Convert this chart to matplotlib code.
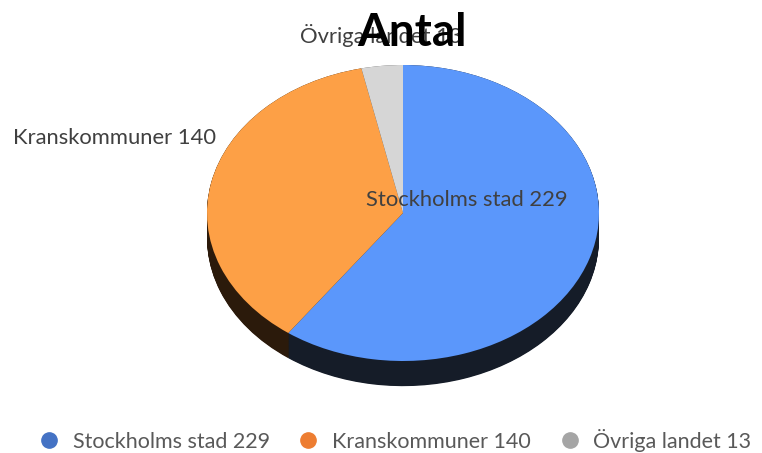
import matplotlib.pyplot as plt
import numpy as np
from matplotlib.lines import Line2D

# Data
categories = ['Stockholms stad', 'Kranskommuner', 'Övriga landet']
values = [229, 140, 13]
top_colors = ['#5b97fb', '#fda046', '#d6d6d6']
side_colors = ['#151c28', '#2b1a0b', '#555555']
legend_colors = ['#4472c4', '#ed7d31', '#a5a5a5']
labels = [f'{c} {v}' for c, v in zip(categories, values)]

plt.rcParams['font.family'] = ['Lato', 'DejaVu Sans']

fig = plt.figure(figsize=(7.62, 4.53), dpi=100)
ax = fig.add_axes([0, 0, 1, 1])

# 3D side: stack of dark pies shifted down
depth = 0.17
for off in np.linspace(depth, 0.0, 40):
    ax.pie(values, colors=side_colors, startangle=90, counterclock=False,
           center=(0, -off), radius=1, wedgeprops=dict(linewidth=0))

# top face
wedges, _ = ax.pie(values, colors=top_colors, startangle=90, counterclock=False,
                   center=(0, 0), radius=1, wedgeprops=dict(linewidth=0))

# pixel-like scaling so the pie appears as a flat ellipse
rx, ry = 196, 148
cx, cy = 403, 240
ax.set_aspect('auto')
ax.set_xlim(-cx / rx, (762 - cx) / rx)
ax.set_ylim(-cy / ry, (453 - cy) / ry)
ax.axis('off')

# data labels
ax.text(0.327, 0.088, labels[0], ha='center', va='center', fontsize=15.8, color='#404040')
ax.text(-1.474, 0.507, labels[1], ha='center', va='center', fontsize=15.8, color='#404040')
ax.text(-0.112, 1.196, labels[2], ha='center', va='center', fontsize=15.8, color='#404040')

fig.text(0.541, 0.927, 'Antal', ha='center', va='center', fontsize=33,
         fontweight='bold', color='black')

handles = [Line2D([], [], marker='o', linestyle='', markersize=11,
                  markerfacecolor=c, markeredgecolor=c) for c in legend_colors]
fig.legend(handles, labels, loc='center', bbox_to_anchor=(0.518, 1 - 440 / 453),
           ncol=3, frameon=False, fontsize=15.5, labelcolor='#595959',
           handlelength=1.0, handletextpad=0.6, columnspacing=1.3)

plt.savefig('out.png', dpi=100)
